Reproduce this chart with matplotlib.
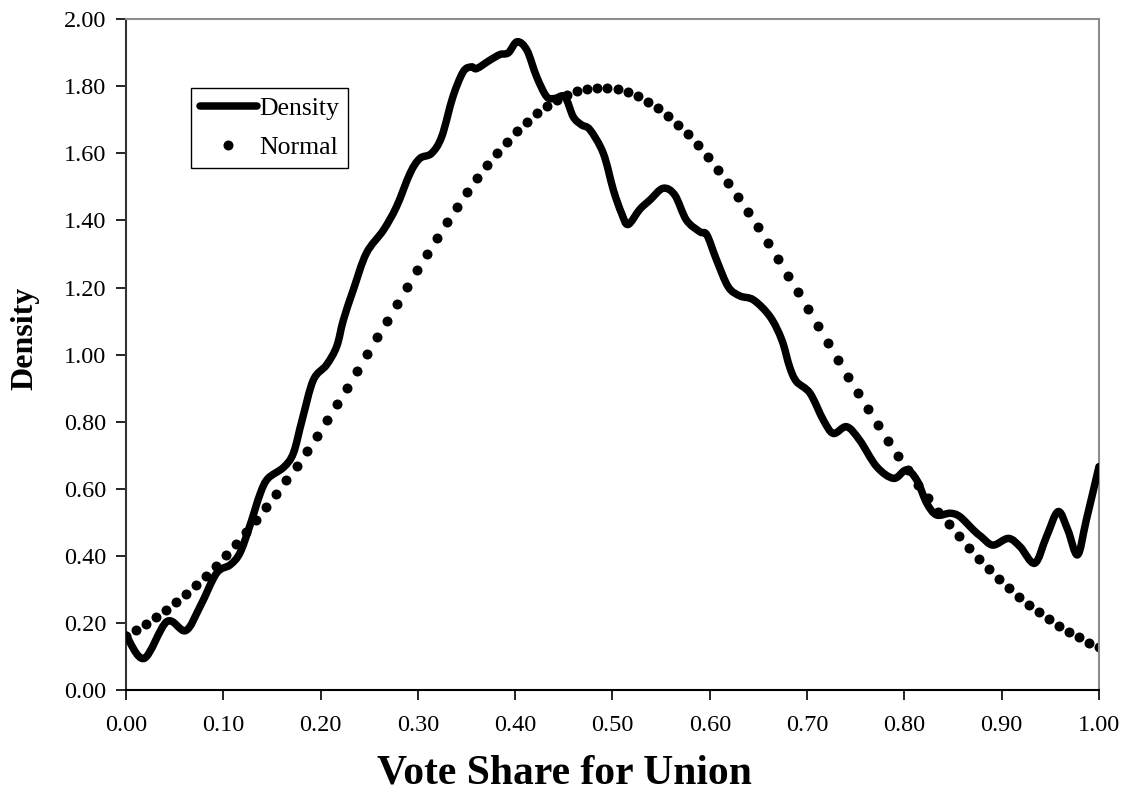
import numpy as np
import matplotlib
matplotlib.use("Agg")
import matplotlib.pyplot as plt
from matplotlib.path import Path
from matplotlib.patches import PathPatch
from matplotlib.lines import Line2D

# Density curve
density_x = [0.000, 0.0185, 0.042, 0.0613, 0.076, 0.093, 0.107, 0.117, 0.127, 0.138,
             0.146, 0.162, 0.172, 0.181, 0.1925, 0.206, 0.2165, 0.2234, 0.2336, 0.247,
             0.2645, 0.278, 0.292, 0.302, 0.314, 0.3245, 0.336, 0.3467, 0.355, 0.3604,
             0.374, 0.3844, 0.393, 0.402, 0.412, 0.422, 0.4324, 0.441, 0.451, 0.4597,
             0.4683, 0.477, 0.4906, 0.501, 0.5094, 0.516, 0.528, 0.5385, 0.552, 0.564,
             0.576, 0.590, 0.597, 0.607, 0.619, 0.631, 0.645, 0.662, 0.674, 0.682,
             0.689, 0.703, 0.7167, 0.727, 0.7407, 0.754, 0.7715, 0.789, 0.802, 0.8127,
             0.823, 0.833, 0.847, 0.857, 0.871, 0.879, 0.891, 0.907, 0.919, 0.934,
             0.946, 0.958, 0.968, 0.978, 0.987, 1.000]
density_y = [0.164, 0.094, 0.204, 0.177, 0.248, 0.348, 0.373, 0.408, 0.487, 0.586,
             0.631, 0.664, 0.706, 0.805, 0.924, 0.969, 1.024, 1.103, 1.193, 1.302,
             1.371, 1.441, 1.541, 1.585, 1.600, 1.650, 1.769, 1.844, 1.858, 1.853,
             1.878, 1.895, 1.900, 1.933, 1.908, 1.829, 1.769, 1.764, 1.769, 1.709,
             1.685, 1.670, 1.600, 1.490, 1.421, 1.388, 1.433, 1.461, 1.496, 1.476,
             1.401, 1.366, 1.357, 1.282, 1.202, 1.175, 1.163, 1.113, 1.044, 0.964,
             0.920, 0.885, 0.805, 0.765, 0.785, 0.745, 0.666, 0.631, 0.656, 0.626,
             0.557, 0.522, 0.527, 0.517, 0.477, 0.457, 0.432, 0.452, 0.427, 0.378,
             0.457, 0.532, 0.477, 0.403, 0.507, 0.666]

# Normal reference values (98 evenly spaced points over 0..1)
normal_y = [0.1621, 0.1792, 0.1977, 0.2177, 0.2392, 0.2622, 0.2869, 0.3131, 0.3411, 0.3707,
            0.4021, 0.4352, 0.4700, 0.5065, 0.5447, 0.5846, 0.6259, 0.6688, 0.7130, 0.7585,
            0.8052, 0.8530, 0.9016, 0.9510, 1.0009, 1.0512, 1.1016, 1.1520, 1.2022, 1.2519,
            1.3008, 1.3486, 1.3952, 1.4405, 1.4839, 1.5253, 1.5645, 1.6014, 1.6355, 1.6669,
            1.6951, 1.7202, 1.7419, 1.7601, 1.7747, 1.7854, 1.7926, 1.7958, 1.7951, 1.7906,
            1.7824, 1.7703, 1.7545, 1.7353, 1.7123, 1.6862, 1.6569, 1.6246, 1.5896, 1.5519,
            1.5119, 1.4698, 1.4257, 1.3801, 1.3330, 1.2847, 1.2356, 1.1858, 1.1356, 1.0851,
            1.0347, 0.9845, 0.9347, 0.8856, 0.8372, 0.7898, 0.7434, 0.6983, 0.6546, 0.6122,
            0.5713, 0.5321, 0.4944, 0.4584, 0.4242, 0.3917, 0.3609, 0.3318, 0.3043, 0.2786,
            0.2545, 0.2320, 0.2110, 0.1915, 0.1734, 0.1567, 0.1413, 0.1272]
normal_x = np.linspace(0.0, 1.0, len(normal_y))

x_ticks = [0.0, 0.1, 0.2, 0.3, 0.4, 0.5, 0.6, 0.7, 0.8, 0.9, 1.0]
y_ticks = [0.0, 0.2, 0.4, 0.6, 0.8, 1.0, 1.2, 1.4, 1.6, 1.8, 2.0]

plt.rcParams['font.family'] = ['Liberation Serif', 'DejaVu Serif']

fig = plt.figure(figsize=(11.26, 7.93), dpi=100)
ax = fig.add_axes([0.1119, 0.1299, 0.8641, 0.8458])

# Smoothed line through the points (Bezier segments, like a spreadsheet "smoothed line")
P = np.column_stack([density_x, density_y])
n = len(P)
verts = [tuple(P[0])]
codes = [Path.MOVETO]
for i in range(n - 1):
    p0 = P[i - 1] if i > 0 else P[i]
    p1 = P[i]
    p2 = P[i + 1]
    p3 = P[i + 2] if i + 2 < n else P[i + 1]
    c1 = p1 + (p2 - p0) / 6.0
    c2 = p2 - (p3 - p1) / 6.0
    verts += [tuple(c1), tuple(c2), tuple(p2)]
    codes += [Path.CURVE4, Path.CURVE4, Path.CURVE4]
line_style = dict(color='black', lw=5.4)
patch = PathPatch(Path(verts, codes), facecolor='none', edgecolor='black', lw=5.4,
                  joinstyle='round', capstyle='round', zorder=3)
ax.add_patch(patch)

ax.plot(normal_x, normal_y, linestyle='none', marker='o', ms=7.2, color='black',
        markeredgewidth=0, zorder=2)

ax.set_xlim(0, 1)
ax.set_ylim(0, 2)
ax.set_xticks(x_ticks)
ax.set_yticks(y_ticks)
ax.set_xticklabels([f"{v:.2f}" for v in x_ticks])
ax.set_yticklabels([f"{v:.2f}" for v in y_ticks])
ax.tick_params(axis='both', direction='out', length=7, width=1.2, labelsize=17.5,
               colors='black')
ax.tick_params(axis='x', pad=11)
ax.tick_params(axis='y', pad=7)

ax.spines['left'].set_color('#333333')
ax.spines['bottom'].set_color('black')
ax.spines['top'].set_color('#8c8c8c')
ax.spines['right'].set_color('#8c8c8c')
for s in ax.spines.values():
    s.set_linewidth(1.5)

fig.text(0.501, 0.0126, 'Vote Share for Union', fontsize=30, fontweight='bold',
         ha='center', va='baseline')
fig.text(0.022, 0.574, 'Density', fontsize=23, fontweight='bold', rotation=90,
         ha='center', va='center')

handles = [Line2D([], [], color='black', lw=5.4, solid_capstyle='round'),
           Line2D([], [], linestyle='none', marker='o', ms=7.2, color='black',
                  markeredgewidth=0)]
leg = ax.legend(handles, ['Density', 'Normal'], loc='upper left',
                bbox_to_anchor=(0.067, 0.897), fontsize=18.5,
                frameon=True, fancybox=False, shadow=False, framealpha=1,
                edgecolor='black', handlelength=2.2, handletextpad=0.1,
                borderpad=0.35, labelspacing=0.6, borderaxespad=0)
leg.get_frame().set_linewidth(1.0)

fig.savefig('out.png', dpi=100)
